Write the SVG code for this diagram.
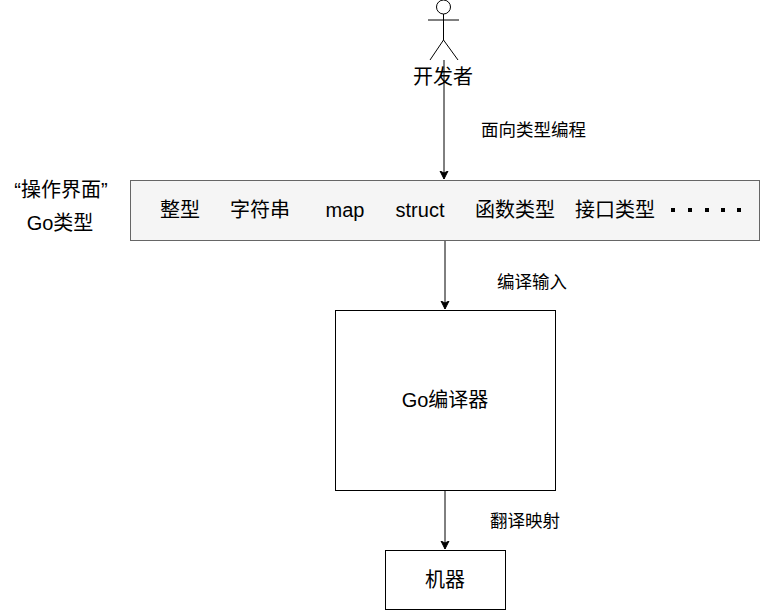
<svg xmlns="http://www.w3.org/2000/svg" width="761" height="611" viewBox="0 0 761 611">
<defs>
<style>
text{font-family:"Liberation Sans","Noto Sans CJK SC",sans-serif;fill:#000}
.t{font-size:20px;text-anchor:middle;dominant-baseline:central}
.l{font-size:17.5px;dominant-baseline:central}
.box{fill:#fff;stroke:#000;stroke-width:1}
.edge{stroke:#000;stroke-width:1;fill:none}
</style>
<marker id="ah" markerWidth="10" markerHeight="10" refX="8" refY="5" orient="auto" markerUnits="userSpaceOnUse">
<path d="M0,1 L8,5 L0,9 L2,5 Z" fill="#000" stroke="#000"/>
</marker>
</defs>
<rect width="761" height="611" fill="#fff"/>
<g id="connectors">
<line class="edge" x1="444" y1="60" x2="444" y2="179" marker-end="url(#ah)"/>
<line class="edge" x1="445" y1="240" x2="445" y2="309" marker-end="url(#ah)"/>
<line class="edge" x1="445" y1="490" x2="445" y2="549" marker-end="url(#ah)"/>
<text class="l" x="481" y="130">面向类型编程</text>
<text class="l" x="497" y="282">编译输入</text>
<text class="l" x="490" y="521">翻译映射</text>
</g>
<g id="developer">
<circle cx="443.5" cy="7" r="7" fill="#fff" stroke="#000"/>
<path class="edge" d="M443.5,14 V40 M428,20 H459 M443.5,40 L430,60 M443.5,40 L458,60"/>
<text class="t" x="443" y="77">开发者</text>
</g>
<g id="types-label">
<text class="t" x="61" y="190">“操作界面”</text>
<text class="t" x="60" y="223">Go类型</text>
</g>
<g id="types">
<rect x="130.5" y="180.5" width="629" height="60" fill="#f5f5f5" stroke="#666"/>
<text class="t" x="180" y="210">整型</text>
<text class="t" x="260" y="210">字符串</text>
<text class="t" x="345" y="210">map</text>
<text class="t" x="420" y="210">struct</text>
<text class="t" x="515" y="210">函数类型</text>
<text class="t" x="615" y="210">接口类型</text>
<g fill="#000">
<rect x="671" y="208" width="4" height="4"/>
<rect x="688" y="208" width="4" height="4"/>
<rect x="705" y="208" width="4" height="4"/>
<rect x="721" y="208" width="4" height="4"/>
<rect x="737" y="208" width="4" height="4"/>
</g>
</g>
<g id="compiler">
<rect class="box" x="335.5" y="310.5" width="220" height="180"/>
<text class="t" x="445" y="400">Go编译器</text>
</g>
<g id="machine">
<rect class="box" x="385.5" y="550.5" width="120" height="59"/>
<text class="t" x="445" y="580">机器</text>
</g>
</svg>
